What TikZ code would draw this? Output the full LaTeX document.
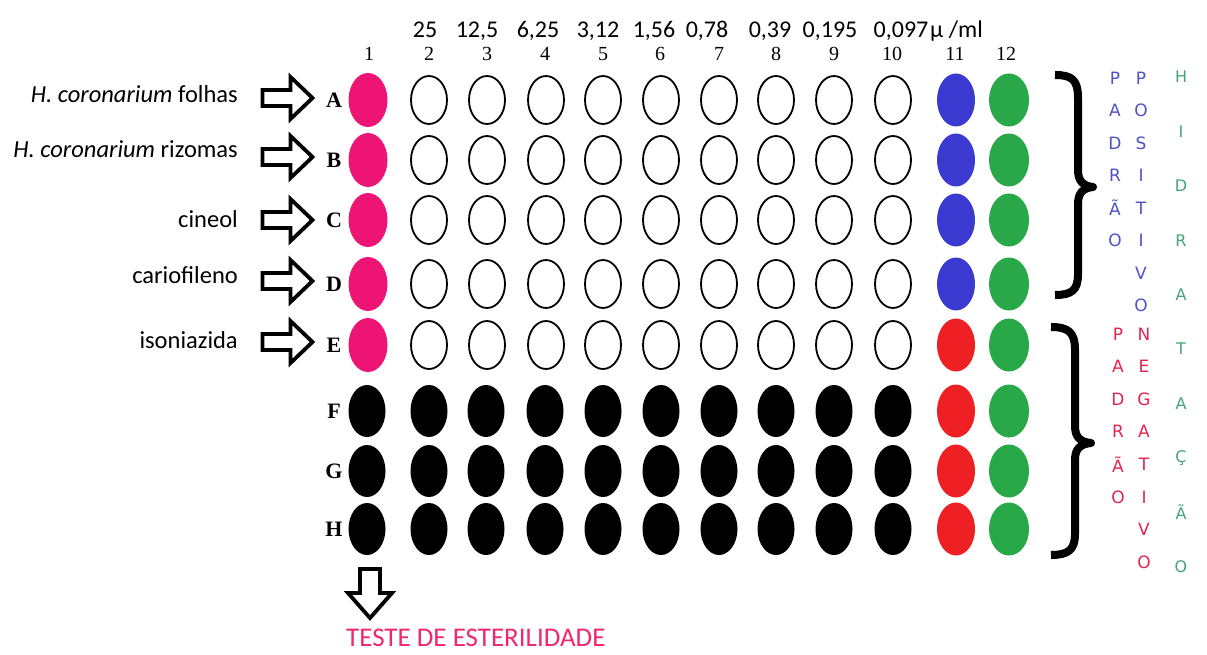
\documentclass[tikz,border=0pt]{standalone}
\usepackage{fontspec}
\setmainfont{Carlito}
\newfontfamily\serifnum{Liberation Serif}
\newfontfamily\vfont{DejaVu Sans}
\usetikzlibrary{shapes.geometric}
\definecolor{wpink}{RGB}{238,20,118}
\definecolor{wblue}{RGB}{58,58,208}
\definecolor{wgreen}{RGB}{40,168,72}
\definecolor{wred}{RGB}{238,32,36}
\definecolor{tblue}{RGB}{80,80,200}
\definecolor{tred}{RGB}{228,36,80}
\definecolor{tgreen}{RGB}{70,165,120}
\definecolor{tpink}{RGB}{240,40,112}
\tikzset{
  well/.style={ellipse,inner sep=0pt,minimum width=38pt,minimum height=53pt},
  pinkwell/.style={well,fill=wpink,minimum width=39pt,minimum height=54pt},
  bluewell/.style={well,fill=wblue},
  greenwell/.style={well,fill=wgreen,minimum width=40pt},
  redwell/.style={well,fill=wred},
  blackwell/.style={well,fill=black,minimum width=37pt,minimum height=52pt},
  openwell/.style={ellipse,inner sep=0pt,draw=black,line width=1.8pt,minimum width=36pt,minimum height=48pt},
  rowlab/.style={font=\serifnum\bfseries\fontsize{22}{24}\selectfont},
  collab/.style={font=\serifnum\fontsize{20}{22}\selectfont,anchor=base},
  conc/.style={font=\fontsize{24}{28}\selectfont,anchor=base},
  lab/.style={font=\fontsize{24.5}{28}\selectfont,anchor=base east,inner sep=0pt},
  vtxt/.style={font=\vfont\fontsize{17}{20}\selectfont,inner sep=0pt},
  arrowline/.style={draw=black,line width=3.8pt,miter limit=10,fill=white},
  bracestyle/.style={draw=black,line width=8pt,line cap=butt,line join=round},
  rarrow/.pic={\path[arrowline] (-25,-8) -- (3,-8) -- (3,-21) -- (25,0) -- (3,21) -- (3,8) -- (-25,8) -- cycle;},
  darrow/.pic={\path[arrowline] (-10,-24) -- (10,-24) -- (10,0) -- (22,0) -- (0,25) -- (-22,0) -- (-10,0) -- cycle;}
}
\begin{document}
\begin{tikzpicture}[x=1pt,y=-1pt]
\useasboundingbox[fill=white] (0,0) rectangle (1207,655);
% wells rows A-E
\foreach \r/\y in {A/100,B/160,C/220,D/284,E/345}{
  \node[pinkwell] (w\r1) at (368,\y) {};
  \foreach \c/\x in {2/429,3/487,4/546,5/603,6/661,7/719,8/776,9/834,10/893}
    \node[openwell] (w\r\c) at (\x,\y) {};
  \node[greenwell] (w\r12) at (1009,\y) {};
  \node[rowlab] (l\r) at (334,\y) {\r};
}
\foreach \r/\y in {A/100,B/160,C/220,D/284}
  \node[bluewell] (w\r11) at (956,\y) {};
\node[redwell] (wE11) at (956,345) {};
% wells rows F-H
\foreach \r/\y in {F/411,G/471,H/529}{
  \foreach \c/\x in {1/367,2/429,3/486,4/545,5/603,6/661,7/719,8/776,9/834,10/893}
    \node[blackwell] (w\r\c) at (\x,\y) {};
  \node[redwell] (w\r11) at (956,\y) {};
  \node[greenwell] (w\r12) at (1009,\y) {};
  \node[rowlab] (l\r) at (334,\y) {\r};
}
% column numbers
\foreach \c/\x in {1/369,2/429,3/487,4/545,5/603,6/660,7/719,8/776,9/834,10/892,11/955,12/1006}
  \node[collab] (c\c) at (\x,61) {\c};
% concentrations
\foreach \v/\x [count=\i] in {25/425,{12,5}/477,{6,25}/538,{3,12}/598,{1,56}/654,{0,78}/707,{0,39}/770,{0,195}/830,{0,097}/901}
  \node[conc] (k\i) at (\x,38) {\v};
\node[conc,anchor=base west,inner sep=0pt] (unit) at (930,38) {μ /ml};
% left labels and arrows
\node[lab] (t1) at (238,103) {\textit{H. coronarium} folhas};
\node[lab] (t2) at (238,158) {\textit{H. coronarium} rizomas};
\node[lab] (t3) at (238,227) {cineol};
\node[lab] (t4) at (238,283) {cariofileno};
\node[lab] (t5) at (238,348) {isoniazida};
\foreach \y [count=\i] in {98,157,220,281,342}
  \pic (ar\i) at (287.5,\y) {rarrow};
% bottom
\pic (ard) at (370,593) {darrow};
\node[font=\fontsize{27}{30}\selectfont,text=tpink,anchor=west,inner sep=0pt] (est) at (346,638) {TESTE DE ESTERILIDADE};
% braces
\draw[bracestyle] (1055,75) .. controls (1072,75) and (1078,80) .. (1078,98)
  -- (1078,170) .. controls (1078,181) and (1083,186) .. (1093,187)
  .. controls (1083,188) and (1078,193) .. (1078,204)
  -- (1078,274) .. controls (1078,290) and (1072,295) .. (1055,295);
\draw[bracestyle] (1051,327) .. controls (1068,327) and (1075,332) .. (1075,350)
  -- (1075,426) .. controls (1075,437) and (1080,442) .. (1091,443)
  .. controls (1080,444) and (1075,449) .. (1075,460)
  -- (1075,534) .. controls (1075,550) and (1068,555) .. (1051,555);
% vertical texts
\foreach \l [count=\i from 0] in {P,A,D,R,Ã,O}
  \node[vtxt,text=tblue] (pa\i) at (1115,78+32.5*\i) {\l};
\foreach \l [count=\i from 0] in {P,O,S,I,T,I,V,O}
  \node[vtxt,text=tblue] (po\i) at (1141,78+32.5*\i) {\l};
\foreach \l [count=\i from 0] in {P,A,D,R,Ã,O}
  \node[vtxt,text=tred] (pr\i) at (1118,334+32.6*\i) {\l};
\foreach \l [count=\i from 0] in {N,E,G,A,T,I,V,O}
  \node[vtxt,text=tred] (ne\i) at (1144,334+32.6*\i) {\l};
\foreach \l [count=\i from 0] in {H,I,D,R,A,T,A,Ç,Ã,O}
  \node[vtxt,font=\vfont\fontsize{16}{18}\selectfont,text=tgreen] (hi\i) at (1181,77+54.4*\i) {\l};
\end{tikzpicture}
\end{document}
